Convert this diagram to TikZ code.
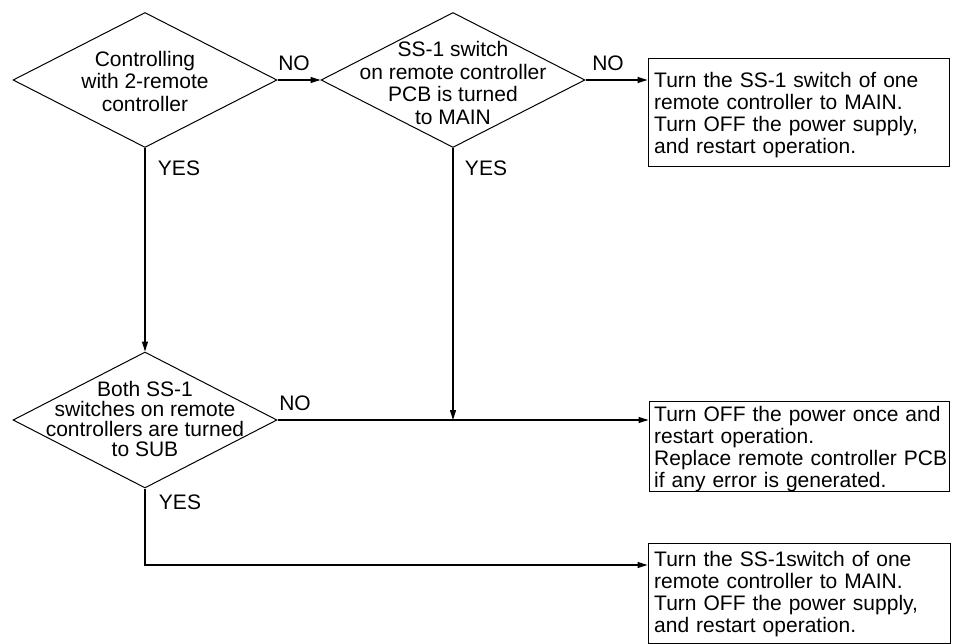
\documentclass[tikz,border=0pt]{standalone}
\usepackage{fontspec}
\setmainfont{Liberation Sans}
\usetikzlibrary{shapes.geometric,arrows.meta}
\begin{document}
\begin{tikzpicture}[x=1pt,y=-1pt,
  dia/.style={draw,diamond,minimum width=264pt,minimum height=135pt,inner sep=0pt,line width=1pt},
  dtxt/.style={align=center,inner sep=0pt,font=\fontsize{21}{22.5}\selectfont},
  boxnode/.style={draw,line width=1pt,minimum width=300pt,inner sep=0pt},
  btxt/.style={anchor=west,align=left,text width=300pt,inner sep=0pt,font=\fontsize{21}{22}\selectfont},
  lbl/.style={inner sep=0pt,font=\fontsize{21}{22}\selectfont},
  conn/.style={line width=1.2pt},
  arr/.style={conn,-{Triangle[length=10pt,width=6pt]}}]
\useasboundingbox (0,0) rectangle (953,644);
% diamonds
\node[dia] (d1) at (145,80) {};
\node[dtxt] (d1t) at (145,81) {Controlling\\with 2-remote\\controller};
\node[dia] (d2) at (453,80) {};
\node[dtxt] (d2t) at (453,83) {SS-1 switch\\on remote controller\\PCB is turned\\to MAIN};
\node[dia,minimum height=136pt] (d3) at (145,420) {};
\node[dtxt,font=\fontsize{21}{20}\selectfont] (d3t) at (145,419) {Both SS-1\\switches on remote\\controllers are turned\\to SUB};
% boxes
\node[boxnode,minimum width=301pt,minimum height=108pt] (b1) at (798.5,113) {};
\node[btxt] (b1t) at (654,115) {Turn the SS-1 switch of one\\remote controller to MAIN.\\Turn OFF the power supply,\\and restart operation.};
\node[boxnode,minimum height=90pt] (b2) at (799,446) {};
\node[btxt] (b2t) at (654,449) {Turn OFF the power once and\\restart operation.\\Replace remote controller PCB\\if any error is generated.};
\node[boxnode,minimum width=302pt,minimum height=100pt] (b3) at (799,593) {};
\node[btxt] (b3t) at (654,594) {Turn the SS-1switch of one\\remote controller to MAIN.\\Turn OFF the power supply,\\and restart operation.};
% connectors
\draw[arr] (d1.east) -- (d2.west);
\draw[arr] (d2.east) -- (d2.east -| b1.west);
\draw[arr] (d1.south) -- (d3.north);
\coordinate (j) at (d2.south |- d3.east);
\draw[arr] (d2.south) -- (j);
\draw[arr] (d3.east) -- (d3.east -| b2.west);
\coordinate (c3) at (145,565);
\draw[arr] (d3.south) -- (c3) -- (c3 -| b3.west);
% labels
\node[lbl] (n1) at (294,63) {NO};
\node[lbl] (n2) at (608,63) {NO};
\node[lbl] (n3) at (295,403) {NO};
\node[lbl] (y1) at (179,168) {YES};
\node[lbl] (y2) at (486,168) {YES};
\node[lbl] (y3) at (180,502) {YES};
\end{tikzpicture}
\end{document}
